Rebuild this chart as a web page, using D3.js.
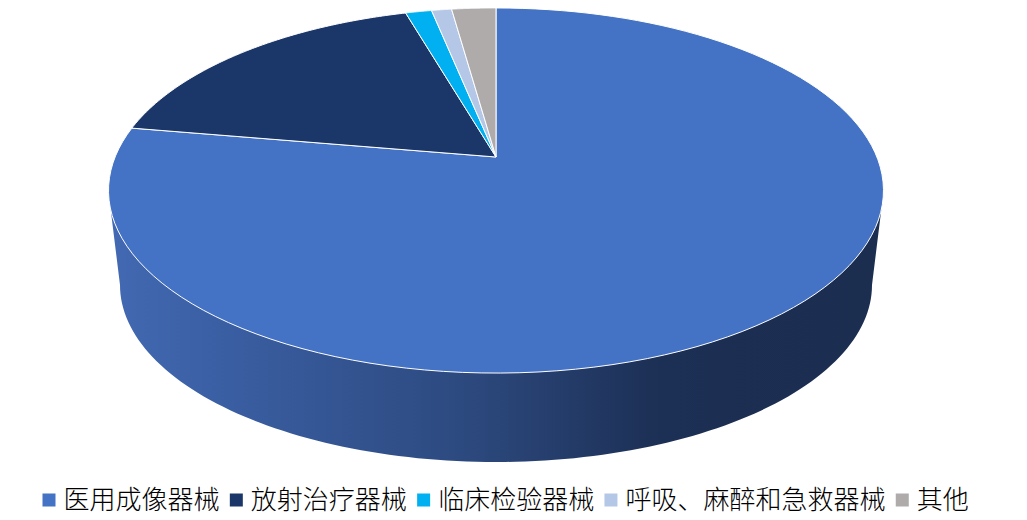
<!DOCTYPE html>
<html><head><meta charset="utf-8">
<script src="https://cdn.jsdelivr.net/npm/d3@7/dist/d3.min.js"></script>
<style>html,body{margin:0;padding:0;background:#fff;overflow:hidden}svg{display:block}</style>
</head><body><svg id="c" width="1027" height="520"></svg>
<script>
const categories = ["医用成像器械","放射治疗器械","临床检验器械","呼吸、麻醉和急救器械","其他"];
const values = [77.7,17.8,1.3,1.0,2.2];
const colors = ["#4472C4","#1B3668","#00B0F0","#B4C7E7","#AFABAB"];
const wallStops = [[0,"#4269B2"],[0.153,"#3A5EA2"],[0.453,"#2D4A80"],[0.719,"#1C2F54"],[1,"#1B2E50"]];

const svg = d3.select("#c");
const ax = 496, ay = 157;            // slice apex
const a = 380.9, b = 176.4, p = 0.1836; // perspective projection of the disc
const project = t => {               // t: clockwise from top
  const u = Math.sin(t), v = Math.cos(t), w = 1 + p * v;
  return [ax + a * u / w, ay - b * v / w];
};
const pie = d3.pie().sort(null)(values);
const arcPts = (t0, t1) => d3.range(0, 121).map(i => project(t0 + (t1 - t0) * i / 120));
const line = d3.line();

const defs = svg.append("defs");
const g = defs.append("linearGradient").attr("id","wall").attr("gradientUnits","userSpaceOnUse")
  .attr("x1",110).attr("x2",881).attr("y1",0).attr("y2",0);
wallStops.forEach(s => g.append("stop").attr("offset",s[0]).attr("stop-color",s[1]));

// side wall
const bx = 496, by = 285, brx = 376, bry = 177;
const bottom = d3.range(0,121).map(i => {
  const t = Math.PI * i / 120;
  return [bx + brx * Math.cos(t), by + bry * Math.sin(t)];
});
const tangent = Math.PI * 0.592;
svg.append("path")
  .attr("d", line([project(tangent)].concat(bottom, [project(2 * Math.PI - tangent)])) + "Z")
  .attr("fill","url(#wall)");

// top face
svg.selectAll("path.slice").data(pie).join("path").attr("class","slice")
  .attr("d", d => line([[ax,ay]].concat(arcPts(d.startAngle,d.endAngle))) + "Z")
  .attr("fill",(d,i)=>colors[i])
  .attr("stroke","#fff").attr("stroke-width",1).attr("stroke-linejoin","round");

// legend
const font = "'Noto Sans CJK SC'";
let lx = 42.5;
categories.forEach((c,i)=>{
  svg.append("rect").attr("x",lx).attr("y",493.5).attr("width",13).attr("height",13).attr("fill",colors[i]);
  const t = svg.append("text").attr("x",lx+21).attr("y",509)
    .attr("font-family",font).attr("font-weight",300).attr("font-size",26).attr("fill","#000").text(c);
  lx += 22 + t.node().getComputedTextLength() + 9.3;
});
</script></body></html>
